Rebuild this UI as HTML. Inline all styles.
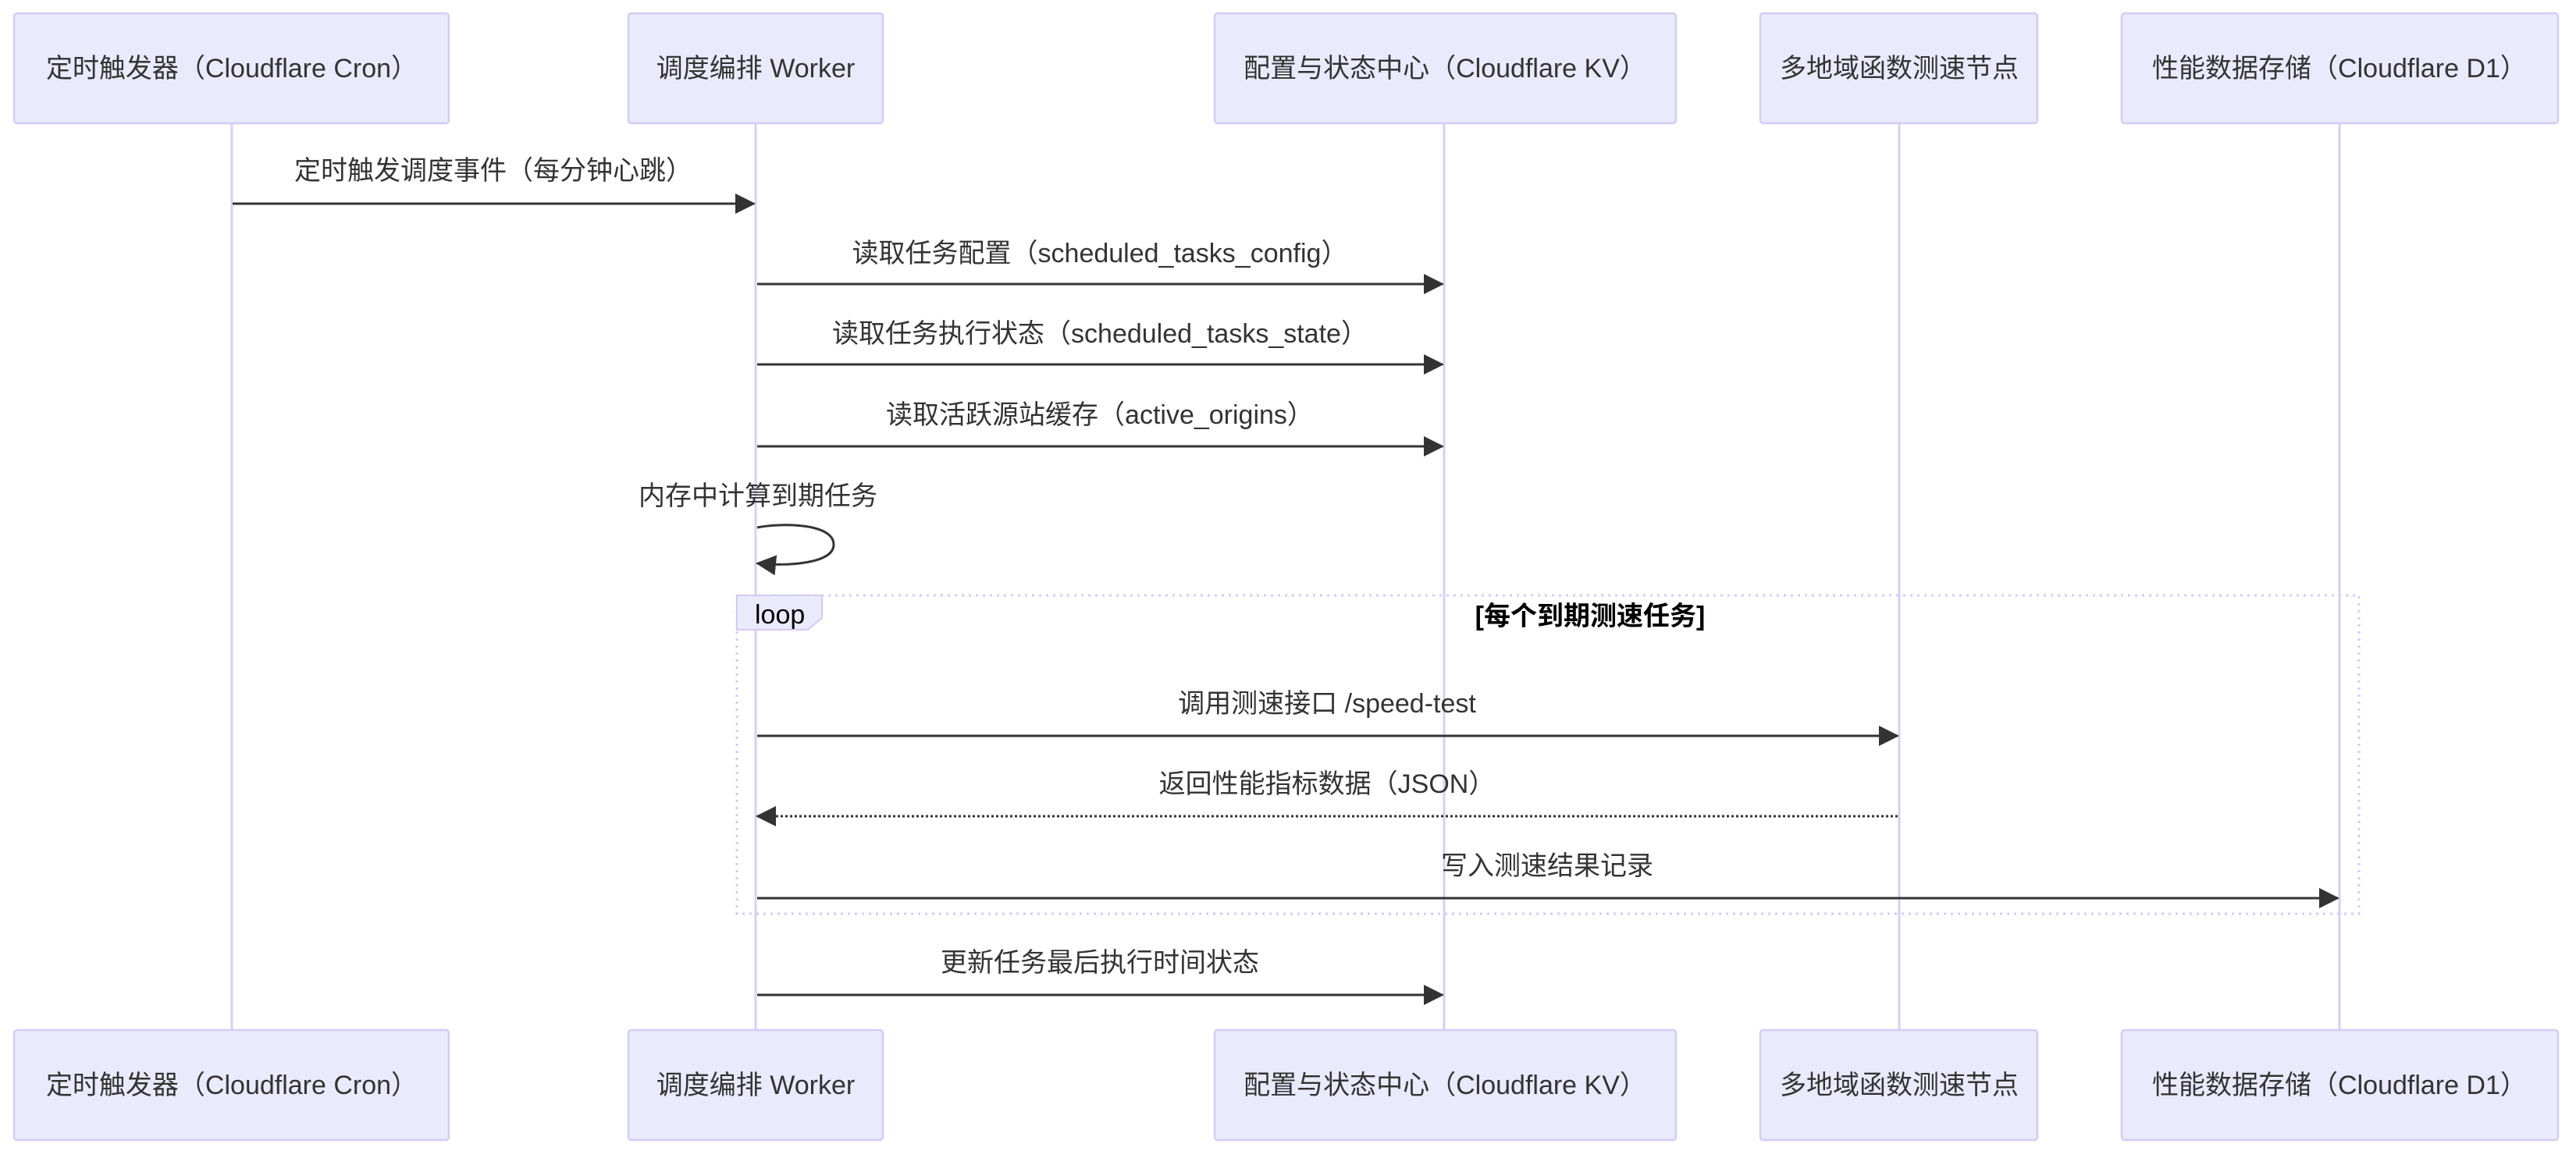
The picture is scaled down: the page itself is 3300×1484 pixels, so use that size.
<!DOCTYPE html>
<html><head><meta charset="utf-8"><style>
html,body{margin:0;padding:0;background:#fff;}
svg{display:block}
text{font-family:"Liberation Sans","Noto Sans CJK SC",sans-serif;font-size:34px;fill:#333;}
.bx{fill:#eaeafd;stroke:#d3ccf4;stroke-width:2.5}
.ll{stroke:#d7cff3;stroke-width:3}
.m{stroke:#333;stroke-width:3;fill:none}
</style></head><body>
<svg width="3300" height="1484" viewBox="0 0 3300 1484" xmlns="http://www.w3.org/2000/svg">
<defs>
<marker id="ah" markerWidth="26" markerHeight="26" refX="24" refY="13" markerUnits="userSpaceOnUse" orient="auto"><path d="M0,0 L26,13 L0,26 z" fill="#333"/></marker>
</defs>
<line class="ll" x1="297" y1="158" x2="297" y2="1320"/>
<line class="ll" x1="968" y1="158" x2="968" y2="1320"/>
<line class="ll" x1="1850" y1="158" x2="1850" y2="1320"/>
<line class="ll" x1="2433" y1="158" x2="2433" y2="1320"/>
<line class="ll" x1="2997" y1="158" x2="2997" y2="1320"/>
<g>
<rect class="bx" x="18" y="17" width="557" height="141" rx="4"/>
<rect class="bx" x="805" y="17" width="326" height="141" rx="4"/>
<rect class="bx" x="1556" y="17" width="591" height="141" rx="4"/>
<rect class="bx" x="2255" y="17" width="355" height="141" rx="4"/>
<rect class="bx" x="2718" y="17" width="559" height="141" rx="4"/>
<text x="297" y="99" text-anchor="middle">定时触发器（Cloudflare Cron）</text>
<text x="968" y="99" text-anchor="middle">调度编排 Worker</text>
<text x="1851" y="99" text-anchor="middle">配置与状态中心（Cloudflare KV）</text>
<text x="2433" y="99" text-anchor="middle">多地域函数测速节点</text>
<text x="2997" y="99" text-anchor="middle">性能数据存储（Cloudflare D1）</text>
</g>
<g>
<rect class="bx" x="18" y="1320" width="557" height="141" rx="4"/>
<rect class="bx" x="805" y="1320" width="326" height="141" rx="4"/>
<rect class="bx" x="1556" y="1320" width="591" height="141" rx="4"/>
<rect class="bx" x="2255" y="1320" width="355" height="141" rx="4"/>
<rect class="bx" x="2718" y="1320" width="559" height="141" rx="4"/>
<text x="297" y="1402" text-anchor="middle">定时触发器（Cloudflare Cron）</text>
<text x="968" y="1402" text-anchor="middle">调度编排 Worker</text>
<text x="1851" y="1402" text-anchor="middle">配置与状态中心（Cloudflare KV）</text>
<text x="2433" y="1402" text-anchor="middle">多地域函数测速节点</text>
<text x="2997" y="1402" text-anchor="middle">性能数据存储（Cloudflare D1）</text>
</g>
<text x="632" y="230" text-anchor="middle">定时触发调度事件（每分钟心跳）</text>
<line class="m" x1="298" y1="261" x2="966" y2="261" marker-end="url(#ah)"/>
<text x="1409" y="336" text-anchor="middle">读取任务配置（scheduled_tasks_config）</text>
<line class="m" x1="970" y1="364" x2="1848" y2="364" marker-end="url(#ah)"/>
<text x="1409" y="439" text-anchor="middle">读取任务执行状态（scheduled_tasks_state）</text>
<line class="m" x1="970" y1="467" x2="1848" y2="467" marker-end="url(#ah)"/>
<text x="1409" y="543" text-anchor="middle">读取活跃源站缓存（active_origins）</text>
<line class="m" x1="970" y1="572" x2="1848" y2="572" marker-end="url(#ah)"/>
<text x="971" y="647" text-anchor="middle">内存中计算到期任务</text>
<path class="m" d="M970,676 C1000,670 1068,670 1068,698 C1068,722 1010,726 970,722" marker-end="url(#ah)"/>
<rect x="944" y="763" width="2078" height="408" fill="none" stroke="#d3ccf4" stroke-width="3" stroke-dasharray="3,6"/>
<path d="M944,763 L1053,763 L1053,792 L1035,807 L944,807 z" fill="#eaeafd" stroke="#d3ccf4" stroke-width="2"/>
<text x="967" y="799" style="fill:#000">loop</text>
<text x="2037" y="801" text-anchor="middle" style="font-weight:bold;fill:#000">[每个到期测速任务]</text>
<text x="1700" y="913" text-anchor="middle">调用测速接口 /speed-test</text>
<line class="m" x1="970" y1="943" x2="2431" y2="943" marker-end="url(#ah)"/>
<text x="1700" y="1016" text-anchor="middle">返回性能指标数据（JSON）</text>
<line class="m" x1="2431" y1="1046" x2="970" y2="1046" stroke-dasharray="3,3" marker-end="url(#ah)"/>
<text x="1982" y="1121" text-anchor="middle">写入测速结果记录</text>
<line class="m" x1="970" y1="1151" x2="2995" y2="1151" marker-end="url(#ah)"/>
<text x="1409" y="1245" text-anchor="middle">更新任务最后执行时间状态</text>
<line class="m" x1="970" y1="1275" x2="1848" y2="1275" marker-end="url(#ah)"/>
</svg>
</body></html>
